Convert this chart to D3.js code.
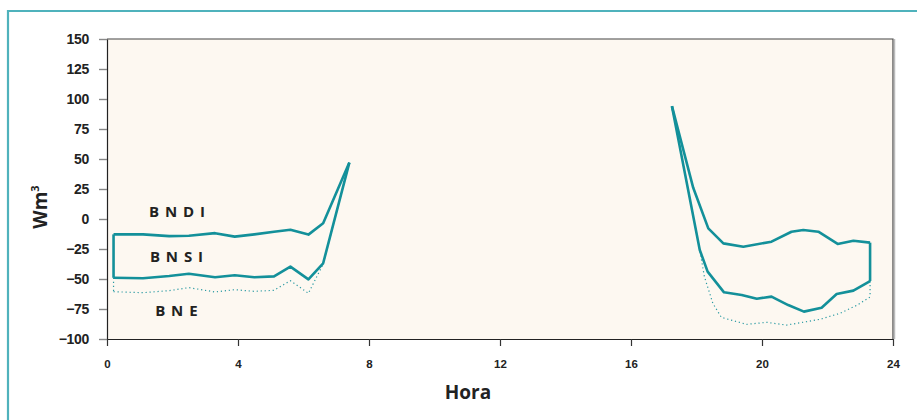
<!DOCTYPE html>
<html>
<head>
<meta charset="utf-8">
<script src="https://cdn.jsdelivr.net/npm/d3@7"></script>
<style>
  html, body { margin: 0; padding: 0; background: #fff; }
  svg { display: block; font-family: "Open Sans", "Noto Sans", sans-serif; }
</style>
</head>
<body>
<div id="chart"></div>
<script>
// horas de la madrugada (tramo izquierdo)
const amHours = [0.2, 1.1, 1.9, 2.5, 3.3, 3.9, 4.5, 5.1, 5.6, 6.15, 6.6, 7.4];
const bndiAM = [-12.8, -12.8, -14.3, -13.9, -11.8, -14.7, -12.8, -10.6, -8.9, -13, -3.6, 47];
const bnsiAM = [-49, -49.4, -47.5, -45.6, -48.6, -46.9, -48.6, -47.8, -39.7, -50.3, -36.9, 47];
const bneAM  = [-60.6, -61.4, -59.7, -57.2, -60.8, -58.9, -60.3, -59.4, -51.4, -61.9, -37.5, 47];

// tramo de la tarde/noche
const bndiPMHours = [17.25, 17.9, 18.36, 18.82, 19.43, 20.29, 20.9, 21.26, 21.72, 22.31, 22.79, 23.3];
const bndiPM = [94, 26, -7.8, -20.3, -23.1, -18.9, -10.6, -9.2, -10.6, -20.8, -18.1, -19.7];
const bnsiPMHours = [17.25, 18.1, 18.34, 18.84, 19.38, 19.84, 20.29, 20.8, 21.28, 21.82, 22.28, 22.79, 23.3];
const bnsiPM = [94, -25.8, -43.9, -61.1, -63.3, -66.4, -64.7, -71.7, -77.2, -73.9, -62.5, -59.7, -51.7];
const bnePMHours = [17.25, 18.1, 18.24, 18.5, 18.76, 19.53, 20.14, 20.75, 21.77, 22.38, 22.89, 23.3];
const bnePM = [94, -25.8, -48, -70.3, -82, -87.8, -86.1, -88.4, -83.6, -78.6, -72, -65];

const xTicks = [0, 4, 8, 12, 16, 20, 24];
const yTicks = [-100, -75, -50, -25, 0, 25, 50, 75, 100, 125, 150];

// etiquetas de las series (hora, valor)
const seriesLabels = [
  { text: "B N D I", h: 1.28, v: 1.7 },
  { text: "B N S I", h: 1.31, v: -35.8 },
  { text: "B N E",   h: 1.47, v: -80.8 }
];

const W = 917, H = 420;
const M = { top: 39, right: 24, bottom: 81, left: 107 };
const TEAL = "#13909a";

const svg = d3.select("#chart").append("svg")
  .attr("width", W).attr("height", H);

// marco exterior
svg.append("path")
  .attr("d", `M8,${H} L8,11 L${W},11`)
  .attr("fill", "none")
  .attr("stroke", "#4fb2bc")
  .attr("stroke-width", 2.2);

const x = d3.scaleLinear().domain([0, 24]).range([M.left, W - M.right]);
const y = d3.scaleLinear().domain([-100, 150]).range([H - M.bottom, M.top]);

// fondo del area de trazado
svg.append("rect")
  .attr("x", x(0)).attr("y", y(150))
  .attr("width", x(24) - x(0)).attr("height", y(-100) - y(150))
  .attr("fill", "#fdf8f1")
  .attr("stroke", "none");

// borde superior y derecho
svg.append("path")
  .attr("d", `M${x(0)},${y(150)} L${x(24)},${y(150)} L${x(24)},${y(-100)}`)
  .attr("fill", "none")
  .attr("stroke", "#444")
  .attr("stroke-width", 1.2);
svg.append("line")
  .attr("x1", x(24) + 1.5).attr("x2", x(24) + 1.5)
  .attr("y1", y(150)).attr("y2", y(-100))
  .attr("stroke", "#bbb").attr("stroke-width", 1.5);

// ejes
const yAxis = d3.axisLeft(y).tickValues(yTicks).tickSize(8).tickPadding(10).tickSizeOuter(0);
const xAxis = d3.axisBottom(x).tickValues(xTicks).tickSize(7).tickPadding(14).tickSizeOuter(0);

const yG = svg.append("g").attr("transform", `translate(${x(0)},0)`).call(yAxis);
yG.select(".domain").attr("stroke", "#222").attr("stroke-width", 1.2);
yG.selectAll(".tick line").attr("stroke", "#888").attr("stroke-width", 1.4);
yG.selectAll(".tick text")
  .attr("fill", "#222").attr("font-size", 14).attr("font-weight", 700)
  .style("letter-spacing", "-0.3px");

const xG = svg.append("g").attr("transform", `translate(0,${y(-100)})`).call(xAxis);
xG.select(".domain").attr("stroke", "#222").attr("stroke-width", 1.2);
xG.selectAll(".tick line").attr("stroke", "#333").attr("stroke-width", 1.2);
xG.selectAll(".tick text")
  .attr("fill", "#222").attr("font-size", 11.5).attr("font-weight", 700);

// titulos de ejes
svg.append("text")
  .attr("x", 468).attr("y", 399)
  .attr("text-anchor", "middle")
  .attr("font-size", 19).attr("font-weight", 700).attr("fill", "#222")
  .text("Hora");

const yt = svg.append("text")
  .attr("transform", `translate(47,207) rotate(-90)`)
  .attr("text-anchor", "middle")
  .attr("font-size", 19).attr("font-weight", 700).attr("fill", "#222");
yt.append("tspan").text("Wm");
yt.append("tspan").attr("font-size", 11).attr("dy", -8).text("3");

// lineas
const line = d3.line().x(d => x(d[0])).y(d => y(d[1]));
const zipS = (hs, vs) => hs.map((h, i) => [h, vs[i]]);

const series = {
  bndi: [zipS(amHours, bndiAM), zipS(bndiPMHours, bndiPM)],
  bnsi: [zipS(amHours, bnsiAM), zipS(bnsiPMHours, bnsiPM)],
  bne:  [zipS(amHours, bneAM),  zipS(bnePMHours, bnePM)]
};

const g = svg.append("g");

// conectores verticales en los extremos (derivados de los datos)
const ends = [
  [series.bndi[0][0], series.bnsi[0][0], series.bne[0][0]],
  [series.bndi[1].at(-1), series.bnsi[1].at(-1), series.bne[1].at(-1)]
];

// BNE punteado
series.bne.forEach(seg => {
  g.append("path").attr("d", line(seg))
    .attr("fill", "none").attr("stroke", "#2a9aa3")
    .attr("stroke-width", 1.2).attr("stroke-dasharray", "1.2,2.8");
});
ends.forEach(e => {
  g.append("path").attr("d", line([[e[1][0], e[1][1]], [e[1][0], e[2][1]]]))
    .attr("fill", "none").attr("stroke", "#2a9aa3")
    .attr("stroke-width", 1.2).attr("stroke-dasharray", "1.2,2.8");
});

// BNDI y BNSI
[...series.bndi, ...series.bnsi].forEach(seg => {
  g.append("path").attr("d", line(seg))
    .attr("fill", "none").attr("stroke", TEAL)
    .attr("stroke-width", 2.6).attr("stroke-linejoin", "round");
});
ends.forEach(e => {
  g.append("path").attr("d", line([e[0], [e[0][0], e[1][1]]]))
    .attr("fill", "none").attr("stroke", TEAL)
    .attr("stroke-width", 2.6);
});

// etiquetas de series
svg.selectAll(".lbl").data(seriesLabels).enter().append("text")
  .attr("class", "lbl")
  .attr("x", d => x(d.h)).attr("y", d => y(d.v))
  .attr("font-size", 15).attr("font-weight", 700).attr("fill", "#222")
  .attr("xml:space", "preserve")
  .style("letter-spacing", "1px")
  .text(d => d.text);
</script>
</body>
</html>
